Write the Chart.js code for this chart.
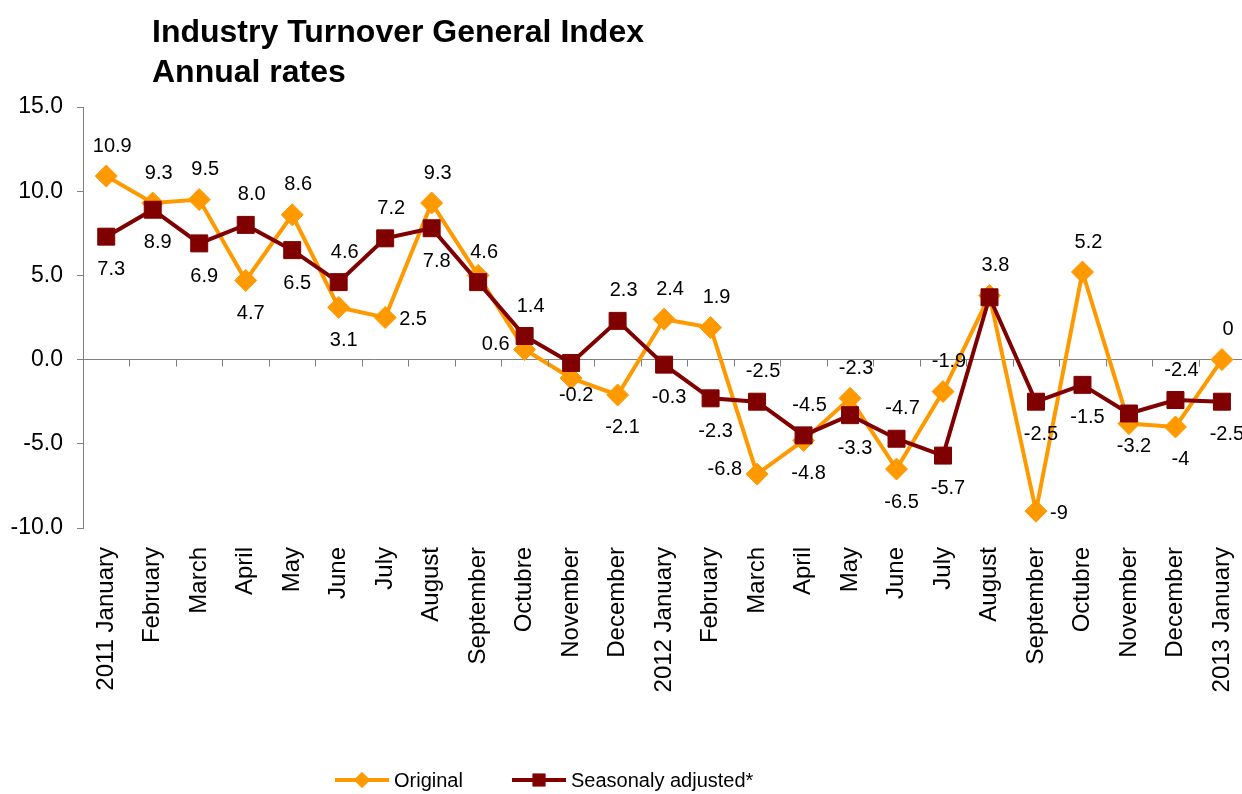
<!DOCTYPE html>
<html>
<head>
<meta charset="utf-8">
<script src="https://cdn.jsdelivr.net/npm/chart.js@4"></script>
<style>
  html, body { margin: 0; padding: 0; background: #fff; overflow: hidden; }
  canvas { display: block; }
</style>
</head>
<body>
<canvas id="turnoverChart" width="1262" height="794"></canvas>
<script>
// Categories
const months = ['2011 January', 'February', 'March', 'April', 'May', 'June', 'July', 'August',
  'September', 'Octubre', 'November', 'December', '2012 January', 'February', 'March', 'April',
  'May', 'June', 'July', 'August', 'September', 'Octubre', 'November', 'December', '2013 January'];

// Annual rates (%)
const original = [10.9, 9.3, 9.5, 4.7, 8.6, 3.1, 2.5, 9.3, 5.0, 0.6, -1.1, -2.1, 2.4, 1.9, -6.8,
  -4.8, -2.3, -6.5, -1.9, 3.8, -9, 5.2, -3.8, -4, 0];
const seasonal = [7.3, 8.9, 6.9, 8.0, 6.5, 4.6, 7.2, 7.8, 4.6, 1.4, -0.2, 2.3, -0.3, -2.3, -2.5,
  -4.5, -3.3, -4.7, -5.7, 3.7, -2.5, -1.5, -3.2, -2.4, -2.5];

// Y axis ticks
const yTicks = [-10, -5, 0, 5, 10, 15];

// where each value label sits (null = no label)
const originalLabelPos = ['above', 'above', 'above', 'below', 'above', 'below', 'right', 'above', null,
  'left', null, 'below', 'above', 'above', 'left', 'below', 'above', 'below', 'above', 'above',
  'right', 'above', null, 'below', 'above'];
const seasonalLabelPos = ['below', 'below', 'below', 'above', 'below', 'above', 'above', 'below', 'above',
  'above', 'below', 'above', 'below', 'below', 'above', 'above', 'below', 'above', 'below', null,
  'below', 'below', 'below', 'above', 'below'];

const FONT = '"Liberation Sans", Arial, sans-serif';
const ORANGE = '#FF9900';
const MAROON = '#800000';
const AXIS = '#808080';

// value labels next to the points
const valueLabels = {
  id: 'valueLabels',
  afterDatasetsDraw(chart) {
    const ctx = chart.ctx;
    ctx.save();
    ctx.font = '20px ' + FONT;
    ctx.fillStyle = '#000';
    ctx.textBaseline = 'middle';
    chart.data.datasets.forEach((ds, di) => {
      const meta = chart.getDatasetMeta(di);
      meta.data.forEach((pt, i) => {
        const pos = ds.labelPos[i];
        if (!pos) return;
        const txt = ds.fmt(ds.data[i]);
        let x = pt.x, y = pt.y;
        if (pos === 'above') { ctx.textAlign = 'center'; x += 6; y -= 30; }
        else if (pos === 'below') { ctx.textAlign = 'center'; x += 5; y += 33; }
        else if (pos === 'left') { ctx.textAlign = 'right'; x -= 15; y -= 5; }
        else { ctx.textAlign = 'left'; x += 14; y += 2; }
        ctx.fillText(txt, x, y);
      });
    });
    ctx.restore();
  }
};

// tick marks hanging under the zero line, title and legend
const decorations = {
  id: 'decorations',
  afterDraw(chart) {
    const ctx = chart.ctx;
    const xs = chart.scales.x, ys = chart.scales.y;
    const y0 = ys.getPixelForValue(0);
    ctx.save();
    ctx.strokeStyle = AXIS;
    ctx.lineWidth = 1;
    ctx.beginPath();
    for (let i = 1; i <= months.length; i++) {
      const bx = Math.round((xs.getPixelForValue(i - 1) + xs.getPixelForValue(i)) / 2) + 0.5;
      ctx.moveTo(bx, y0);
      ctx.lineTo(bx, y0 + 7);
    }
    ctx.stroke();

    // title
    ctx.fillStyle = '#000';
    ctx.textAlign = 'left';
    ctx.textBaseline = 'alphabetic';
    ctx.font = 'bold 32px ' + FONT;
    ctx.fillText('Industry Turnover General Index', 152, 42);
    ctx.fillText('Annual rates', 152, 82);

    // legend
    const ly = 780;
    ctx.font = '20px ' + FONT;
    ctx.textBaseline = 'middle';
    chart.data.datasets.slice().sort((a, b) => b.order - a.order).forEach((ds, k) => {
      const x0 = k === 0 ? 335 : 512;
      ctx.strokeStyle = ds.borderColor;
      ctx.lineWidth = 4;
      ctx.beginPath();
      ctx.moveTo(x0, ly);
      ctx.lineTo(x0 + 54, ly);
      ctx.stroke();
      ctx.fillStyle = ds.borderColor;
      Chart.helpers.drawPoint(ctx, { pointStyle: ds.pointStyle, radius: ds.pointStyle === 'rect' ? 9 : 8, borderWidth: 0 }, x0 + 27, ly);
      ctx.fill();
      ctx.fillStyle = '#000';
      ctx.fillText(ds.label, x0 + 59, ly + 1);
    });
    ctx.restore();
  }
};

new Chart(document.getElementById('turnoverChart'), {
  type: 'line',
  data: {
    labels: months,
    datasets: [{
      label: 'Original',
      data: original,
      labelPos: originalLabelPos,
      fmt: v => String(v),
      borderColor: ORANGE,
      backgroundColor: ORANGE,
      borderWidth: 4,
      pointStyle: 'rectRot',
      pointRadius: 11,
      pointBorderWidth: 1,
      tension: 0,
      order: 1
    }, {
      label: 'Seasonaly adjusted*',
      data: seasonal,
      labelPos: seasonalLabelPos,
      fmt: v => v.toFixed(1),
      borderColor: MAROON,
      backgroundColor: MAROON,
      borderWidth: 4,
      pointStyle: 'rect',
      pointRadius: 12,
      pointBorderWidth: 1,
      tension: 0,
      order: 0
    }]
  },
  options: {
    responsive: false,
    animation: false,
    clip: false,
    layout: { padding: { top: 107, right: 5, left: 0, bottom: 0 } },
    plugins: {
      legend: { display: false },
      title: { display: false },
      tooltip: { enabled: false }
    },
    scales: {
      x: {
        offset: true,
        grid: { display: false },
        border: { display: false },
        afterFit: s => { s.height = 266; },
        ticks: {
          autoSkip: false,
          minRotation: 90,
          maxRotation: 90,
          padding: 11,
          color: '#000',
          font: { family: FONT, size: 24 }
        }
      },
      y: {
        min: yTicks[0],
        max: yTicks[yTicks.length - 1],
        afterFit: s => { s.width = 83; },
        border: { display: true, color: AXIS, width: 1 },
        grid: {
          color: c => (c.tick && c.tick.value === 0 ? AXIS : 'rgba(0,0,0,0)'),
          tickColor: AXIS,
          tickLength: 6,
          lineWidth: 1
        },
        ticks: {
          stepSize: yTicks[1] - yTicks[0],
          padding: 14,
          color: '#000',
          font: { family: FONT, size: 23 },
          callback: v => v.toFixed(1)
        }
      }
    }
  },
  plugins: [valueLabels, decorations]
});
</script>
</body>
</html>
